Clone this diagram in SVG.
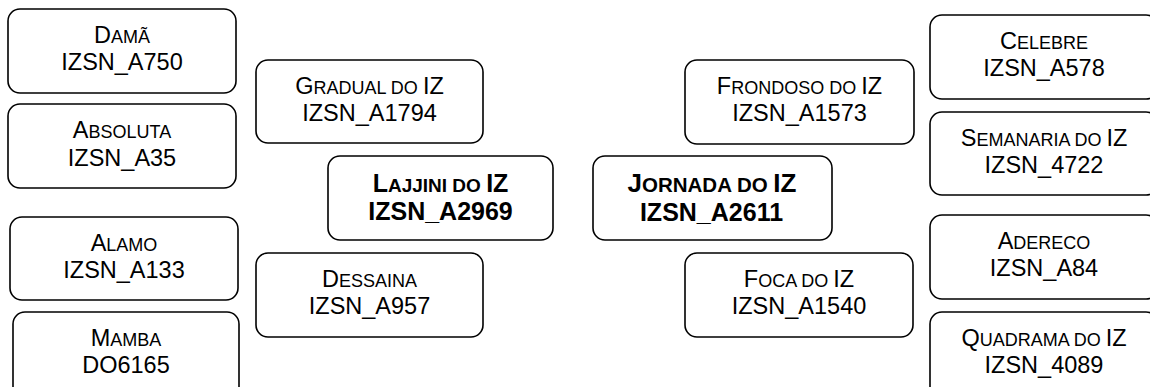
<svg xmlns="http://www.w3.org/2000/svg" width="1150" height="387" viewBox="0 0 1150 387">
<style>
.box{fill:#fff;stroke:#000;stroke-width:1.6}
.t{font-family:"Liberation Sans",Arial,sans-serif;font-size:23.5px;fill:#000;text-anchor:middle}
.s{font-size:18px}
.b{font-weight:bold;font-size:25px}
.b .s{font-size:19px}
.j{font-size:26px}
.j .s{font-size:20.5px}
</style>
<rect width="1150" height="387" fill="#fff"/>
<g id="connectors"></g>
<g id="dama"><rect class="box" x="8" y="9" width="228" height="84" rx="12"/><text class="t" x="122" y="43">D<tspan class="s">AMÃ</tspan></text><text class="t" x="122" y="70">IZSN_A750</text></g>
<g id="absoluta"><rect class="box" x="8" y="104" width="228" height="84" rx="12"/><text class="t" x="122" y="138">A<tspan class="s">BSOLUTA</tspan></text><text class="t" x="122" y="166">IZSN_A35</text></g>
<g id="alamo"><rect class="box" x="10" y="217" width="228" height="83" rx="12"/><text class="t" x="124" y="251">A<tspan class="s">LAMO</tspan></text><text class="t" x="124" y="278">IZSN_A133</text></g>
<g id="mamba"><rect class="box" x="13" y="312" width="226" height="90" rx="12"/><text class="t" x="126" y="346">M<tspan class="s">AMBA</tspan></text><text class="t" x="126" y="373">DO6165</text></g>
<g id="gradual"><rect class="box" x="256" y="60" width="227" height="83" rx="12"/><text class="t" x="369.5" y="94">G<tspan class="s">RADUAL DO </tspan>IZ</text><text class="t" x="369.5" y="121">IZSN_A1794</text></g>
<g id="lajjini"><rect class="box" x="328" y="156" width="225" height="84" rx="12"/><text class="t b" x="440.5" y="192">L<tspan class="s">AJJINI DO </tspan>IZ</text><text class="t b" x="440.5" y="220">IZSN_A2969</text></g>
<g id="dessaina"><rect class="box" x="256" y="253" width="227" height="84" rx="12"/><text class="t" x="369.5" y="287">D<tspan class="s">ESSAINA</tspan></text><text class="t" x="369.5" y="314">IZSN_A957</text></g>
<g id="jornada"><rect class="box" x="593" y="156" width="239" height="84" rx="12"/><text class="t b j" x="712" y="192">J<tspan class="s">ORNADA DO </tspan>IZ</text><text class="t b" x="711.5" y="221">IZSN_A2611</text></g>
<g id="frondoso"><rect class="box" x="685" y="60" width="229" height="84" rx="12"/><text class="t" x="799.5" y="94">F<tspan class="s">RONDOSO DO </tspan>IZ</text><text class="t" x="799.5" y="121">IZSN_A1573</text></g>
<g id="foca"><rect class="box" x="685" y="253" width="228" height="84" rx="12"/><text class="t" x="799" y="287">F<tspan class="s">OCA DO </tspan>IZ</text><text class="t" x="799" y="314">IZSN_A1540</text></g>
<g id="celebre"><rect class="box" x="930" y="15" width="228" height="84" rx="12"/><text class="t" x="1044" y="49">C<tspan class="s">ELEBRE</tspan></text><text class="t" x="1044" y="76">IZSN_A578</text></g>
<g id="semanaria"><rect class="box" x="930" y="112" width="228" height="83" rx="12"/><text class="t" x="1044" y="146">S<tspan class="s">EMANARIA DO </tspan>IZ</text><text class="t" x="1044" y="173">IZSN_4722</text></g>
<g id="adereco"><rect class="box" x="930" y="215" width="228" height="84" rx="12"/><text class="t" x="1044" y="249">A<tspan class="s">DERECO</tspan></text><text class="t" x="1044" y="276">IZSN_A84</text></g>
<g id="quadrama"><rect class="box" x="930" y="312" width="228" height="90" rx="12"/><text class="t" x="1044" y="346">Q<tspan class="s">UADRAMA DO </tspan>IZ</text><text class="t" x="1044" y="373">IZSN_4089</text></g>
</svg>
